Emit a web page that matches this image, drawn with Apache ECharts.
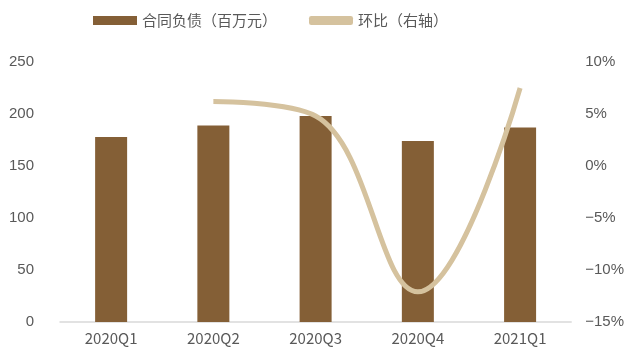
<!DOCTYPE html>
<html>
<head>
<meta charset="utf-8">
<script src="https://cdn.jsdelivr.net/npm/echarts@6/dist/echarts.min.js"></script>
<style>
  html, body { margin: 0; padding: 0; background: #fff; }
  #main { width: 627px; height: 356px; }
</style>
</head>
<body>
<div id="main"></div>
<script>
// data
const categories = ['2020Q1', '2020Q2', '2020Q3', '2020Q4', '2021Q1']
const contractLiab = [178, 189, 198, 174, 187]
const qoq = [null, 6.2, 4.8, -12.1, 7.5]

const chart = echarts.init(document.getElementById('main'))
const labelColor = '#595959'
const font = '"Noto Sans CJK SC", "Liberation Sans", sans-serif'

const option = {
  animation: false,
  legend: {
    top: 8,
    left: 88,
    itemGap: 32,
    itemWidth: 44,
    itemHeight: 9,
    textStyle: { color: labelColor, fontSize: 15, fontFamily: font },
    data: [
      { name: '合同负债（百万元）', icon: 'rect' },
      { name: '环比（右轴）', icon: 'roundRect', itemStyle: { color: '#D5C29E' } }
    ]
  },
  grid: { left: 60, right: 54, top: 62, bottom: 34 },
  xAxis: {
    type: 'category',
    data: categories,
    axisLine: { lineStyle: { color: '#D9D9D9', width: 1.5 } },
    axisTick: { show: false },
    axisLabel: { color: labelColor, fontSize: 15, fontFamily: font, margin: 9 }
  },
  yAxis: [
    {
      type: 'value',
      min: 0,
      max: 250,
      interval: 50,
      splitLine: { show: false },
      axisLine: { show: false },
      axisTick: { show: false },
      axisLabel: { color: labelColor, fontSize: 15, fontFamily: '"Liberation Sans", Arial', margin: 26 }
    },
    {
      type: 'value',
      min: -15,
      max: 10,
      interval: 5,
      splitLine: { show: false },
      axisLine: { show: false },
      axisTick: { show: false },
      axisLabel: {
        color: labelColor,
        fontSize: 15,
        fontFamily: '"Liberation Sans", Arial',
        margin: 14,
        formatter: v => (v < 0 ? '\u2212' + (-v) : v) + '%'
      }
    }
  ],
  series: [
    {
      name: '合同负债（百万元）',
      type: 'bar',
      data: contractLiab,
      barWidth: 32,
      itemStyle: { color: '#845F36' }
    },
    {
      name: '环比（右轴）',
      type: 'line',
      yAxisIndex: 1,
      data: qoq,
      smooth: 0.4,
      symbol: 'none',
      lineStyle: { color: '#D5C29E', width: 5 },
      itemStyle: { color: '#D5C29E' }
    }
  ]
}
chart.setOption(option)
</script>
</body>
</html>
